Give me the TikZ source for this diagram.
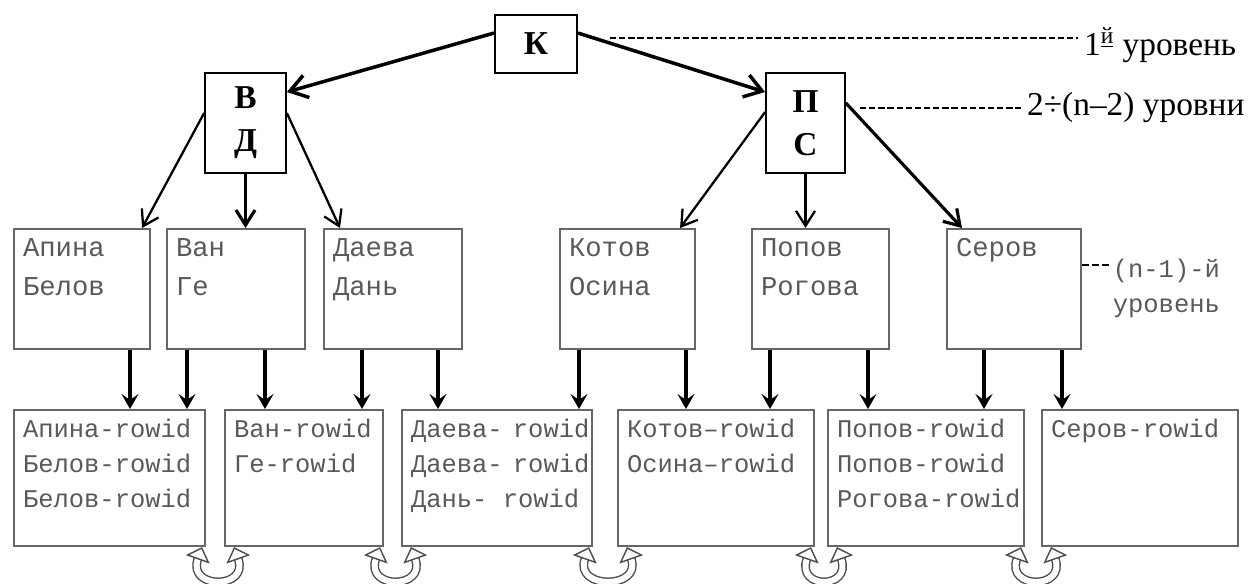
\documentclass[tikz,border=0pt]{standalone}
\usepackage{fontspec}
\setmainfont{Liberation Serif}
\newfontfamily\leaffont{Liberation Mono}
\usetikzlibrary{arrows.meta}
\newcommand{\cell}[3]{\parbox[c][\dimexpr#2-0.36cm\relax][t]{\dimexpr#1-0.36cm\relax}{\exhyphenpenalty=10000 \hyphenpenalty=10000 #3}}

\begin{document}
\begin{tikzpicture}[x=0.02cm,y=-0.02cm,
  topbox/.style={draw,line width=1pt,align=center,inner sep=0pt,
    font=\fontsize{19pt}{24.4pt}\selectfont\bfseries},
  midbox/.style={draw=black!60,line width=1.2pt,anchor=north west,inner sep=0.18cm,
    text=black!65,font=\leaffont\fontsize{15.5pt}{22.7pt}\selectfont},
  leafbox/.style={midbox,font=\leaffont\fontsize{14.5pt}{19.8pt}\selectfont},
  lvltext/.style={font=\fontsize{19pt}{22pt}\selectfont},
  leveldash/.style={line width=1.6pt,dash pattern=on 3.6pt off 1.6pt},
  toparrow/.style={line width=2pt,-{Straight Barb[length=0.34cm,width=0.46cm]}},
  midarrow/.style={line width=1.3pt,-{Straight Barb[length=0.3cm,width=0.38cm]}},
  leafarrow/.style={line width=1.8pt,-{Stealth[length=0.3cm,width=0.34cm,inset=0.12cm]}},
  uturn/.style={draw=black!70,line width=0.8pt,double=white,double distance=0.12cm,
    {Triangle[open,length=0.26cm,width=0.5cm,line width=0.8pt]}-{Triangle[open,length=0.26cm,width=0.5cm,line width=0.8pt]}}]
\useasboundingbox (0,0) rectangle (1254,583);

\node[topbox,minimum width=1.64cm,minimum height=1.16cm] (K) at (536,44) {К};
\node[topbox,minimum width=1.62cm,minimum height=2cm] (VD) at (245.5,123) {В\\Д};
\node[topbox,minimum width=1.58cm,minimum height=2cm] (PS) at (805.5,123) {П\\С};

\node[midbox] (apina) at (13,228) {\cell{2.72cm}{2.4cm}{Апина\\Белов}};
\node[midbox] (van) at (166,228) {\cell{2.76cm}{2.4cm}{Ван\\Ге}};
\node[midbox] (daeva) at (323,228) {\cell{2.76cm}{2.4cm}{Даева\\Дань}};
\node[midbox] (kotov) at (559,228) {\cell{2.7cm}{2.4cm}{Котов\\Осина}};
\node[midbox] (popov) at (751,228) {\cell{2.74cm}{2.4cm}{Попов\\Рогова}};
\node[midbox] (serov) at (946,228) {\cell{2.68cm}{2.4cm}{Серов}};

\node[leafbox] (b1) at (13,409) {\cell{3.82cm}{2.72cm}{Апина-rowid\\Белов-rowid\\Белов-rowid}};
\node[leafbox] (b2) at (224,409) {\cell{3.16cm}{2.72cm}{Ван-rowid\\Ге-rowid}};
\node[leafbox] (b3) at (401,409) {\cell{3.8cm}{2.72cm}{Даева-~rowid\\Даева-~rowid\\Дань-~rowid}};
\node[leafbox] (b4) at (617,409) {\cell{3.92cm}{2.72cm}{Котов–rowid\\Осина–rowid}};
\node[leafbox] (b5) at (827,409) {\cell{3.92cm}{2.72cm}{Попов-rowid\\Попов-rowid\\Рогова-rowid}};
\node[leafbox] (b6) at (1041,409) {\cell{3.92cm}{2.72cm}{Серов-rowid}};

\draw[toparrow] ([yshift=0.22cm]K.west) -- ([yshift=0.62cm]VD.east);
\draw[toparrow] ([yshift=0.22cm]K.east) -- ([yshift=0.62cm]PS.west);

\draw[midarrow] ([yshift=0.2cm]VD.west) -- ([xshift=-0.18cm]apina.north east);
\draw[midarrow,line width=1.8pt] (VD.south) -- (VD.south |- van.north);
\draw[midarrow] ([yshift=0.2cm]VD.east) -- ([xshift=0.34cm]daeva.north west);
\draw[midarrow] ([yshift=0.22cm]PS.west) -- ([xshift=-0.32cm]kotov.north east);
\draw[midarrow] (PS.south) -- (PS.south |- popov.north);
\draw[midarrow,line width=1.8pt] ([yshift=0.4cm]PS.east) -- ([xshift=0.32cm]serov.north west);

\foreach \src/\dx/\dst in {apina/2.34/b1,van/0.42/b1,van/1.98/b2,daeva/0.78/b2,daeva/2.30/b3,
  kotov/0.40/b3,kotov/2.54/b4,popov/0.38/b4,popov/2.34/b5,serov/0.76/b5,serov/2.32/b6}
  \draw[leafarrow] ([xshift=\dx cm]\src.south west) -- ([xshift=\dx cm]\src.south west |- \dst.north);

\foreach \l/\r in {b1/b2,b2/b3,b3/b4,b4/b5,b5/b6}
  \draw[uturn] ([xshift=-0.08cm]\l.south east) .. controls +(-0.3cm,-0.85cm) and +(0.3cm,-0.85cm) .. ([xshift=0.2cm]\r.south west);

\node[lvltext,anchor=base west] (lvl1) at (1078,55) {1\textsuperscript{\underline{й}} уровень};
\coordinate (d1) at (610,38);
\draw[leveldash] (d1) -- (d1 -| lvl1.west);

\node[lvltext,anchor=west] (lvl2) at (1021,108) {2÷(n–2) уровни};
\coordinate (d2) at (860,108);
\draw[leveldash] (d2) -- (d2 -| lvl2.west);

\node[anchor=north west,align=left,inner sep=0.17cm,text=black!65,
  font=\leaffont\fontsize{14.5pt}{19.8pt}\selectfont] (lvl3) at (1104,250) {(n-1)-й\\уровень};
\coordinate (d3) at (1110,265);
\draw[line width=1.2pt,dash pattern=on 4pt off 1.6pt] (d3 -| serov.east) -- (d3);
\end{tikzpicture}
\end{document}
